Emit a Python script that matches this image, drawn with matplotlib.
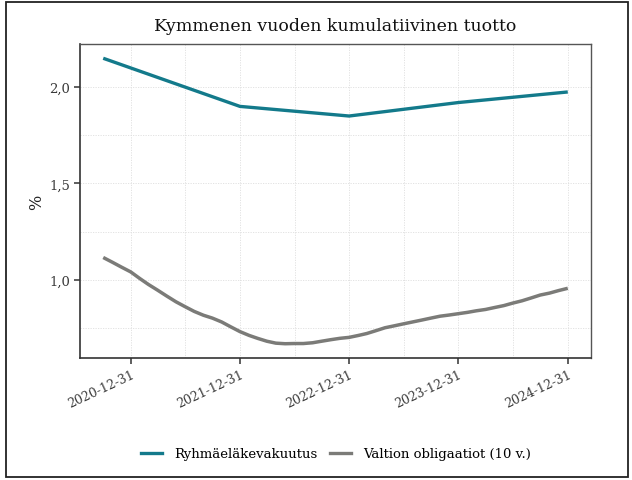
import matplotlib
matplotlib.use("Agg")
import matplotlib.pyplot as plt
import matplotlib.dates as mdates
from matplotlib.patches import Rectangle
from matplotlib.lines import Line2D
import numpy as np
import pandas as pd

title = "Kymmenen vuoden kumulatiivinen tuotto"
ylabel = "%"
series_names = ["Ryhmäeläkevakuutus", "Valtion obligaatiot (10 v.)"]

teal_dates = ["2020-09-30", "2021-12-31", "2022-12-31", "2023-12-31", "2024-12-31"]
teal_values = [2.15, 1.90, 1.85, 1.92, 1.975]

gray_start = "2020-09-30"
gray_values = [
    1.115, 1.09, 1.065, 1.04,
    1.005, 0.975, 0.945, 0.915, 0.885, 0.86, 0.835, 0.815, 0.80, 0.78, 0.755, 0.73,
    0.71, 0.695, 0.68, 0.67, 0.667, 0.668, 0.668, 0.672, 0.68, 0.688, 0.695, 0.70,
    0.71, 0.72, 0.735, 0.75, 0.76, 0.77, 0.78, 0.79, 0.80, 0.81, 0.816, 0.823,
    0.83, 0.838, 0.845, 0.855, 0.865, 0.878, 0.89, 0.905, 0.92, 0.93, 0.943, 0.955,
]
x_ticks = ["2020-12-31", "2021-12-31", "2022-12-31", "2023-12-31", "2024-12-31"]
y_ticks = [1.0, 1.5, 2.0]
y_tick_labels = ["1,0", "1,5", "2,0"]

teal_color = "#137a8b"
gray_color = "#7b7b78"
font = ["DejaVu Serif"]

plt.rcParams["font.family"] = font

fig = plt.figure(figsize=(6.32, 4.81), dpi=100)
ax = fig.add_axes([80/632, 1-359/481, (591-80)/632, (359-45)/481])

td = pd.to_datetime(teal_dates)
gd = pd.date_range(gray_start, periods=len(gray_values), freq="ME")

ax.plot(gd, gray_values, color=gray_color, lw=2.5, solid_capstyle="butt", zorder=3)
ax.plot(td, teal_values, color=teal_color, lw=2.4, solid_capstyle="butt", zorder=3)

# limits with ggplot-like 5% expansion
xmin = mdates.date2num(pd.Timestamp(gray_start))
xmax = mdates.date2num(pd.Timestamp("2024-12-31"))
dx = (xmax - xmin) * 0.05
ax.set_xlim(xmin - dx, xmax + dx)
allv = list(teal_values) + list(gray_values)
lo, hi = min(allv), max(allv)
dy = (hi - lo) * 0.05
ax.set_ylim(lo - dy, hi + dy)

xt = mdates.date2num(pd.to_datetime(x_ticks))
ax.set_xticks(xt)
ax.set_xticklabels(x_ticks, rotation=25, ha="right", rotation_mode="anchor",
                   fontsize=9, color="#3a3a3a")
minor_x = (xt[:-1] + xt[1:]) / 2
ax.set_xticks(minor_x, minor=True)
ax.set_yticks(y_ticks)
ax.set_yticklabels(y_tick_labels, fontsize=9.5, color="#3a3a3a")
ax.set_yticks([0.75, 1.25, 1.75], minor=True)

ax.tick_params(axis="both", which="major", length=4, width=1.1, color="#333333", pad=3)
ax.tick_params(axis="both", which="minor", length=0)
ax.grid(True, which="both", color="#dedede", lw=0.6, ls=(0, (1.5, 1.5)), zorder=0)
ax.set_axisbelow(True)

for s in ["left", "bottom"]:
    ax.spines[s].set_color("#333333")
    ax.spines[s].set_linewidth(1.2)
for s in ["top", "right"]:
    ax.spines[s].set_color("#555555")
    ax.spines[s].set_linewidth(1.0)

ax.set_ylabel(ylabel, fontsize=11.5, color="#222222", labelpad=3)
ax.set_title(title, fontsize=12.5, color="#111111", pad=10)

handles = [Line2D([], [], color=teal_color, lw=2.4),
           Line2D([], [], color=gray_color, lw=2.4)]
fig.legend(handles, series_names, loc="center", bbox_to_anchor=(336/632, 1-455/481),
           ncol=2, frameon=False, fontsize=9.5, handlelength=1.6, columnspacing=1.0,
           handletextpad=0.9)

fig.patches.append(Rectangle((6/632, 3/481), 622/632, 475/481, transform=fig.transFigure,
                             fill=False, edgecolor="#222222", lw=1.3))

fig.savefig("out.png", dpi=100, facecolor="white")
